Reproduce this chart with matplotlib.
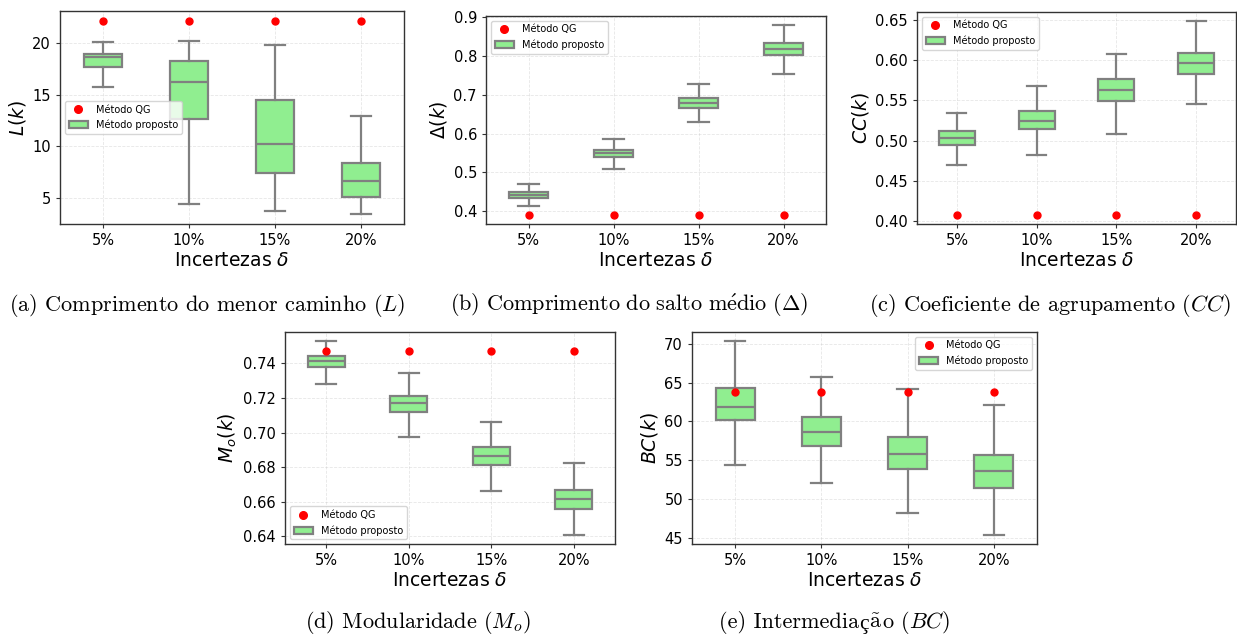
import matplotlib
matplotlib.use("Agg")
import matplotlib.pyplot as plt
from matplotlib.patches import Patch
from matplotlib.lines import Line2D

W, H = 1237, 636
categories = ["5%", "10%", "15%", "20%"]

# (a) shortest path length L
L_whislo = [15.77, 4.42, 3.77, 3.42]
L_q1 = [17.64, 12.6, 7.4, 5.1]
L_med = [18.6, 16.2, 10.2, 6.6]
L_q3 = [18.94, 18.26, 14.5, 8.35]
L_whishi = [20.13, 20.2, 19.77, 12.94]
L_qg = [22.16, 22.16, 22.16, 22.16]
L_ticks = [5, 10, 15, 20]

# (b) mean hop length Delta
D_whislo = [0.412, 0.5083, 0.6289, 0.7544]
D_q1 = [0.4327, 0.5385, 0.6666, 0.8019]
D_med = [0.4412, 0.5488, 0.6787, 0.8182]
D_q3 = [0.450, 0.5574, 0.6916, 0.8336]
D_whishi = [0.4704, 0.585, 0.7278, 0.880]
D_qg = [0.3903, 0.3903, 0.3903, 0.3903]
D_ticks = [0.4, 0.5, 0.6, 0.7, 0.8, 0.9]

# (c) clustering coefficient CC
C_whislo = [0.470, 0.4828, 0.5083, 0.5453]
C_q1 = [0.494, 0.5145, 0.549, 0.5829]
C_med = [0.5033, 0.5243, 0.5631, 0.5965]
C_q3 = [0.512, 0.5363, 0.5762, 0.6089]
C_whishi = [0.5338, 0.568, 0.608, 0.648]
C_qg = [0.4082, 0.4082, 0.4082, 0.4082]
C_ticks = [0.40, 0.45, 0.50, 0.55, 0.60, 0.65]

# (d) modularity Mo
M_whislo = [0.7283, 0.6977, 0.666, 0.641]
M_q1 = [0.7377, 0.7119, 0.6813, 0.6559]
M_med = [0.7412, 0.7169, 0.6865, 0.6615]
M_q3 = [0.7442, 0.7214, 0.6915, 0.6667]
M_whishi = [0.7527, 0.7344, 0.706, 0.6825]
M_qg = [0.7471, 0.7471, 0.7471, 0.7471]
M_ticks = [0.64, 0.66, 0.68, 0.70, 0.72, 0.74]

# (e) betweenness BC
B_whislo = [54.43, 52.07, 48.26, 45.43]
B_q1 = [60.17, 56.83, 53.83, 51.42]
B_med = [61.84, 58.63, 55.8, 53.57]
B_q3 = [64.25, 60.52, 58.04, 55.67]
B_whishi = [70.3, 65.75, 64.2, 62.06]
B_qg = [63.77, 63.77, 63.77, 63.77]
B_ticks = [45, 50, 55, 60, 65, 70]

fig = plt.figure(figsize=(W / 100, H / 100), dpi=100)


def add_ax(left, top, right, bottom):
    return fig.add_axes([left / W, 1 - bottom / H, (right - left) / W, (bottom - top) / H])


def panel(ax, whislo, q1, med, q3, whishi, qg, ticks, ylabel, legloc, fmt):
    stats = []
    for i in range(len(categories)):
        stats.append(dict(whislo=whislo[i], q1=q1[i], med=med[i], q3=q3[i],
                          whishi=whishi[i], fliers=[], label=categories[i]))
    pos = list(range(len(categories)))
    ax.bxp(stats, positions=pos, widths=0.45, capwidths=0.24, patch_artist=True,
           showfliers=False,
           boxprops=dict(facecolor="#90EE90", edgecolor="grey", linewidth=1.6),
           whiskerprops=dict(color="grey", linewidth=1.6),
           capprops=dict(color="grey", linewidth=1.6),
           medianprops=dict(color="grey", linewidth=1.6))
    ax.plot(pos, qg, "o", color="red", ms=5, zorder=4, linestyle="none")
    ax.set_xlim(-0.5, len(categories) - 0.5)
    ax.set_xticks(pos)
    ax.set_xticklabels(categories)
    ax.set_yticks(ticks)
    ax.set_yticklabels([fmt.format(t) for t in ticks])
    ax.relim()
    ax.autoscale(axis="y")
    ax.tick_params(labelsize=10.5, color="#333333", length=3)
    ax.set_xlabel(r"Incertezas $\delta$", fontsize=13.5, labelpad=2)
    ax.set_ylabel(ylabel, fontsize=13.5, labelpad=3)
    ax.grid(True, linestyle="--", linewidth=0.6, alpha=0.3)
    ax.set_axisbelow(True)
    for s in ax.spines.values():
        s.set_color("#333333")
        s.set_linewidth(1.0)
    handles = [Line2D([], [], marker="o", color="red", linestyle="none", ms=5.5),
               Patch(facecolor="#90EE90", edgecolor="grey", linewidth=1.6)]
    ax.legend(handles, ["Método QG", "Método proposto"], loc=legloc, fontsize=7)


axa = add_ax(60, 11, 404, 224)
panel(axa, L_whislo, L_q1, L_med, L_q3, L_whishi, L_qg, L_ticks, r"$L(k)$", "center left", "{:d}")
axb = add_ax(486, 15.7, 826, 224.3)
panel(axb, D_whislo, D_q1, D_med, D_q3, D_whishi, D_qg, D_ticks, r"$\Delta(k)$", "upper left", "{:.1f}")
axc = add_ax(917, 11.7, 1236, 224.3)
panel(axc, C_whislo, C_q1, C_med, C_q3, C_whishi, C_qg, C_ticks, r"$CC(k)$", "upper left", "{:.2f}")
axd = add_ax(285, 331.7, 615, 544.3)
panel(axd, M_whislo, M_q1, M_med, M_q3, M_whishi, M_qg, M_ticks, r"$M_o(k)$", "lower left", "{:.2f}")
axe = add_ax(692, 331.7, 1037, 544.3)
panel(axe, B_whislo, B_q1, B_med, B_q3, B_whishi, B_qg, B_ticks, r"$BC(k)$", "upper right", "{:d}")

CM = "cmr10"
SER = "Liberation Serif"
# (text, family, kern in px applied before the segment)
captions = [
    (207, 311.5, [("(a) Comprimento do menor caminho ($L$)", CM, 0)]),
    (629, 311.5, [(r"$\mathrm{(b)\ Comprimento\ do\ salto\ m\acute{e}dio\ }(\Delta)$", CM, 0)]),
    (1049.5, 311.5, [("(c) Coeficiente de agrupamento ($CC$)", CM, 0)]),
    (418, 628.5, [("(d) Modularidade ($M_o$)", CM, 0)]),
    (834.5, 628.5, [("(e) Intermedia", CM, 0), ("ç", SER, 0.5), (r"$\mathrm{\tilde{a}}$", CM, 0),
                    ("o ($BC$)", CM, 0)]),
]
renderer = fig.canvas.get_renderer()
CAP_FS = 16
for xc, yb, segs in captions:
    objs = []
    for s, fam, k in segs:
        t = fig.text(0, 1 - yb / H, s, ha="left", va="baseline",
                     fontsize=CAP_FS if fam == CM else CAP_FS * 0.97, family=fam)
        t.set_math_fontfamily("cm")
        objs.append((t, k))
    widths = [t.get_window_extent(renderer).width + k for t, k in objs]
    x = xc - sum(widths) / 2
    for (t, k), w in zip(objs, widths):
        x += k
        t.set_x(x / W)
        x += w - k

fig.savefig("out.png", dpi=100)
